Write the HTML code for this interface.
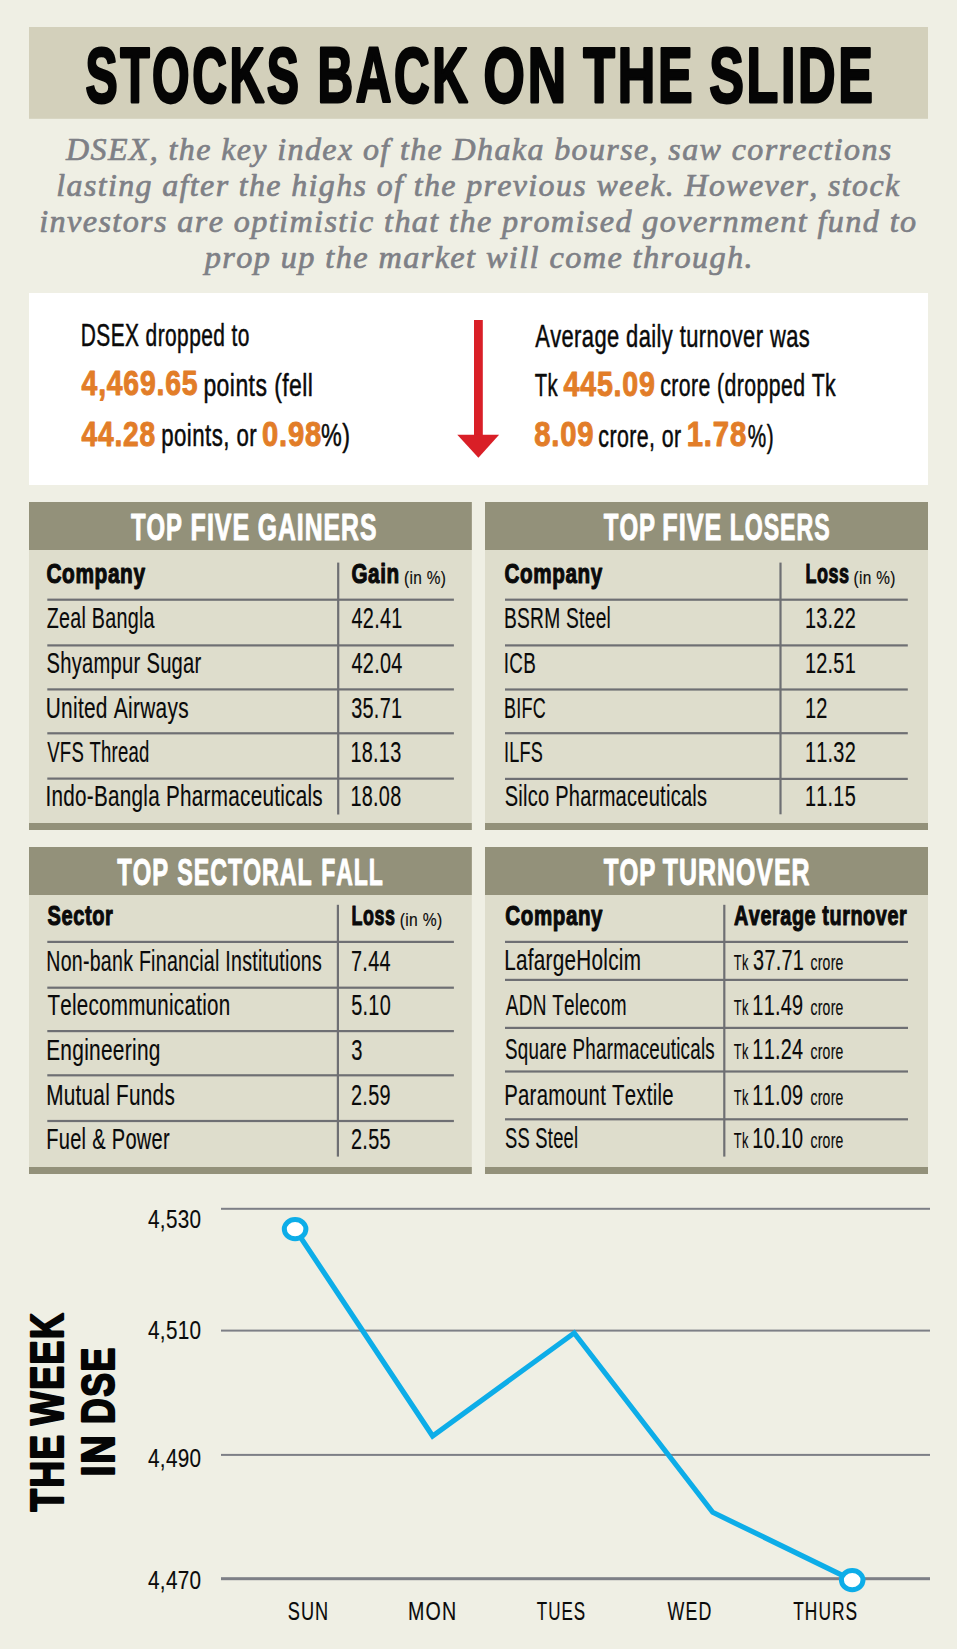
<!DOCTYPE html>
<html><head><meta charset="utf-8"><title>Stocks back on the slide</title>
<style>
html,body{margin:0;padding:0;background:#EFEFE4;}
body{width:957px;height:1649px;overflow:hidden;}
svg{display:block;}
text{font-kerning:none;white-space:pre;}
.r{font-family:"Liberation Sans",sans-serif;font-weight:400;}
.b{font-family:"Liberation Sans",sans-serif;font-weight:700;}
.i{font-family:"Liberation Serif",serif;font-weight:400;font-style:italic;}
.bi{font-family:"Liberation Serif",serif;font-weight:700;font-style:italic;}
</style></head>
<body>
<svg width="957" height="1649" viewBox="0 0 957 1649">
<rect x="0" y="0" width="957" height="1649" fill="#EFEFE4"/>
<rect x="29" y="27" width="899" height="91.8" fill="#D3D0BB"/>
<text class="b" transform="translate(85.49,102.30) scale(0.6251,1)" font-size="77.18" letter-spacing="4.00" stroke="#050505" stroke-width="2.80" stroke-linejoin="round" fill="#050505">STOCKS</text>
<text class="b" transform="translate(317.59,102.30) scale(0.6400,1)" font-size="77.18" letter-spacing="4.00" stroke="#050505" stroke-width="2.80" stroke-linejoin="round" fill="#050505">BACK</text>
<text class="b" transform="translate(483.58,102.30) scale(0.6882,1)" font-size="77.18" letter-spacing="4.00" stroke="#050505" stroke-width="2.80" stroke-linejoin="round" fill="#050505">ON</text>
<text class="b" transform="translate(583.36,102.30) scale(0.6721,1)" font-size="77.18" letter-spacing="4.00" stroke="#050505" stroke-width="2.80" stroke-linejoin="round" fill="#050505">THE</text>
<text class="b" transform="translate(709.25,102.30) scale(0.6731,1)" font-size="77.18" letter-spacing="4.00" stroke="#050505" stroke-width="2.80" stroke-linejoin="round" fill="#050505">SLIDE</text>
<text class="i" transform="translate(66.00,159.65) scale(0.9846,1)" font-size="32.52" letter-spacing="1.40" stroke="#7E8086" stroke-width="0.70" stroke-linejoin="round" fill="#7E8086">DSEX, the key index of the Dhaka bourse, saw corrections</text>
<text class="i" transform="translate(56.34,195.65) scale(0.9822,1)" font-size="32.52" letter-spacing="1.40" stroke="#7E8086" stroke-width="0.70" stroke-linejoin="round" fill="#7E8086">lasting after the highs of the previous week. However, stock</text>
<text class="i" transform="translate(39.25,232.45) scale(0.9900,1)" font-size="32.52" letter-spacing="1.40" stroke="#7E8086" stroke-width="0.70" stroke-linejoin="round" fill="#7E8086">investors are optimistic that the promised government fund to</text>
<text class="i" transform="translate(204.74,268.15) scale(0.9934,1)" font-size="32.52" letter-spacing="1.40" stroke="#7E8086" stroke-width="0.70" stroke-linejoin="round" fill="#7E8086">prop up the market will come through.</text>
<rect x="29" y="293" width="899" height="192" fill="#FFFFFF"/>
<text class="r" transform="translate(80.75,345.55) scale(0.6738,1)" font-size="31.10" letter-spacing="0.60" stroke="#0A0A0A" stroke-width="0.50" stroke-linejoin="round" fill="#0A0A0A">DSEX dropped to</text>
<text class="b" transform="translate(81.57,395.10) scale(0.7992,1)" font-size="35.47" letter-spacing="1.00" stroke="#E27D28" stroke-width="1.00" stroke-linejoin="round" fill="#E27D28">4,469.65</text>
<text class="r" transform="translate(203.40,395.55) scale(0.7391,1)" font-size="31.10" letter-spacing="0.60" stroke="#0A0A0A" stroke-width="0.50" stroke-linejoin="round" fill="#0A0A0A">points (fell</text>
<text class="b" transform="translate(81.57,445.50) scale(0.7935,1)" font-size="35.47" letter-spacing="1.00" stroke="#E27D28" stroke-width="1.00" stroke-linejoin="round" fill="#E27D28">44.28</text>
<text class="r" transform="translate(161.24,445.75) scale(0.7158,1)" font-size="31.10" letter-spacing="0.60" stroke="#0A0A0A" stroke-width="0.50" stroke-linejoin="round" fill="#0A0A0A">points, or</text>
<text class="b" transform="translate(261.96,445.50) scale(0.8223,1)" font-size="35.47" letter-spacing="1.00" stroke="#E27D28" stroke-width="1.00" stroke-linejoin="round" fill="#E27D28">0.98</text>
<text class="r" transform="translate(321.05,445.75) scale(0.7512,1)" font-size="31.10" letter-spacing="0.60" stroke="#0A0A0A" stroke-width="0.50" stroke-linejoin="round" fill="#0A0A0A">%)</text>
<text class="r" transform="translate(535.13,346.55) scale(0.7043,1)" font-size="31.10" letter-spacing="0.60" stroke="#0A0A0A" stroke-width="0.50" stroke-linejoin="round" fill="#0A0A0A">Average daily turnover was</text>
<text class="r" transform="translate(534.71,396.05) scale(0.6514,1)" font-size="31.10" letter-spacing="0.60" stroke="#0A0A0A" stroke-width="0.50" stroke-linejoin="round" fill="#0A0A0A">Tk</text>
<text class="b" transform="translate(563.47,395.80) scale(0.8062,1)" font-size="35.47" letter-spacing="1.00" stroke="#E27D28" stroke-width="1.00" stroke-linejoin="round" fill="#E27D28">445.09</text>
<text class="r" transform="translate(660.27,396.05) scale(0.6835,1)" font-size="31.10" letter-spacing="0.60" stroke="#0A0A0A" stroke-width="0.50" stroke-linejoin="round" fill="#0A0A0A">crore (dropped Tk</text>
<text class="b" transform="translate(534.18,446.30) scale(0.8246,1)" font-size="35.47" letter-spacing="1.00" stroke="#E27D28" stroke-width="1.00" stroke-linejoin="round" fill="#E27D28">8.09</text>
<text class="r" transform="translate(598.36,446.55) scale(0.6867,1)" font-size="31.10" letter-spacing="0.60" stroke="#0A0A0A" stroke-width="0.50" stroke-linejoin="round" fill="#0A0A0A">crore, or</text>
<text class="b" transform="translate(686.77,446.30) scale(0.8250,1)" font-size="35.47" letter-spacing="1.00" stroke="#E27D28" stroke-width="1.00" stroke-linejoin="round" fill="#E27D28">1.78</text>
<text class="r" transform="translate(747.83,446.55) scale(0.6680,1)" font-size="31.10" letter-spacing="0.60" stroke="#0A0A0A" stroke-width="0.50" stroke-linejoin="round" fill="#0A0A0A">%)</text>
<rect x="474" y="320" width="8.8" height="116" fill="#D91F27"/>
<polygon points="457.3,434.8 499.1,434.8 478.4,457.7" fill="#D91F27"/>
<rect x="29" y="502" width="442.8" height="328" fill="#DEDDCC"/>
<rect x="29" y="502" width="442.8" height="48" fill="#93917A"/>
<rect x="485" y="502" width="443" height="328" fill="#DEDDCC"/>
<rect x="485" y="502" width="443" height="48" fill="#93917A"/>
<rect x="29" y="823" width="442.8" height="7" fill="#93917A"/>
<rect x="485" y="823" width="443" height="7" fill="#93917A"/>
<rect x="29" y="847" width="442.8" height="327" fill="#DEDDCC"/>
<rect x="29" y="847" width="442.8" height="48" fill="#93917A"/>
<rect x="485" y="847" width="443" height="327" fill="#DEDDCC"/>
<rect x="485" y="847" width="443" height="48" fill="#93917A"/>
<rect x="29" y="1167" width="442.8" height="7" fill="#93917A"/>
<rect x="485" y="1167" width="443" height="7" fill="#93917A"/>
<text class="b" transform="translate(130.95,540.30) scale(0.6374,1)" font-size="37.50" letter-spacing="1.50" stroke="#FFFFFF" stroke-width="1.00" stroke-linejoin="round" fill="#FFFFFF">TOP</text>
<text class="b" transform="translate(190.56,540.30) scale(0.6692,1)" font-size="37.50" letter-spacing="1.50" stroke="#FFFFFF" stroke-width="1.00" stroke-linejoin="round" fill="#FFFFFF">FIVE</text>
<text class="b" transform="translate(257.71,540.30) scale(0.6607,1)" font-size="37.50" letter-spacing="1.50" stroke="#FFFFFF" stroke-width="1.00" stroke-linejoin="round" fill="#FFFFFF">GAINERS</text>
<text class="b" transform="translate(603.85,540.30) scale(0.6399,1)" font-size="37.50" letter-spacing="1.50" stroke="#FFFFFF" stroke-width="1.00" stroke-linejoin="round" fill="#FFFFFF">TOP</text>
<text class="b" transform="translate(662.35,540.30) scale(0.6727,1)" font-size="37.50" letter-spacing="1.50" stroke="#FFFFFF" stroke-width="1.00" stroke-linejoin="round" fill="#FFFFFF">FIVE</text>
<text class="b" transform="translate(729.76,540.30) scale(0.6174,1)" font-size="37.50" letter-spacing="1.50" stroke="#FFFFFF" stroke-width="1.00" stroke-linejoin="round" fill="#FFFFFF">LOSERS</text>
<text class="b" transform="translate(117.35,885.30) scale(0.6361,1)" font-size="37.50" letter-spacing="1.50" stroke="#FFFFFF" stroke-width="1.00" stroke-linejoin="round" fill="#FFFFFF">TOP</text>
<text class="b" transform="translate(177.24,885.30) scale(0.6208,1)" font-size="37.50" letter-spacing="1.50" stroke="#FFFFFF" stroke-width="1.00" stroke-linejoin="round" fill="#FFFFFF">SECTORAL</text>
<text class="b" transform="translate(321.17,885.30) scale(0.6145,1)" font-size="37.50" letter-spacing="1.50" stroke="#FFFFFF" stroke-width="1.00" stroke-linejoin="round" fill="#FFFFFF">FALL</text>
<text class="b" transform="translate(603.85,885.30) scale(0.6450,1)" font-size="37.50" letter-spacing="1.50" stroke="#FFFFFF" stroke-width="1.00" stroke-linejoin="round" fill="#FFFFFF">TOP</text>
<text class="b" transform="translate(662.75,885.30) scale(0.6646,1)" font-size="37.50" letter-spacing="1.50" stroke="#FFFFFF" stroke-width="1.00" stroke-linejoin="round" fill="#FFFFFF">TURNOVER</text>
<rect x="47.3" y="598.60" width="406.60" height="2.2" fill="#6E6F73"/>
<rect x="47.3" y="644.30" width="406.60" height="2.2" fill="#6E6F73"/>
<rect x="47.3" y="688.30" width="406.60" height="2.2" fill="#6E6F73"/>
<rect x="47.3" y="732.20" width="406.60" height="2.2" fill="#6E6F73"/>
<rect x="47.3" y="777.50" width="406.60" height="2.2" fill="#6E6F73"/>
<rect x="337.10" y="562.6" width="2.2" height="251.90" fill="#6E6F73"/>
<text class="b" transform="translate(46.46,583.05) scale(0.7468,1)" font-size="27.91" letter-spacing="0.80" stroke="#0A0A0A" stroke-width="1.10" stroke-linejoin="round" fill="#0A0A0A">Company</text>
<text class="b" transform="translate(351.46,583.05) scale(0.7406,1)" font-size="27.91" letter-spacing="0.80" stroke="#0A0A0A" stroke-width="1.10" stroke-linejoin="round" fill="#0A0A0A">Gain</text>
<text class="r" transform="translate(404.11,583.52) scale(0.8503,1)" font-size="18.10" letter-spacing="0.40" stroke="#0A0A0A" stroke-width="0.15" stroke-linejoin="round" fill="#0A0A0A">(in %)</text>
<text class="r" transform="translate(46.72,627.62) scale(0.6700,1)" font-size="29.43" letter-spacing="0.40" stroke="#0A0A0A" stroke-width="0.15" stroke-linejoin="round" fill="#0A0A0A">Zeal Bangla</text>
<text class="r" transform="translate(46.44,672.72) scale(0.6854,1)" font-size="29.43" letter-spacing="0.40" stroke="#0A0A0A" stroke-width="0.15" stroke-linejoin="round" fill="#0A0A0A">Shyampur Sugar</text>
<text class="r" transform="translate(45.74,717.52) scale(0.7095,1)" font-size="29.43" letter-spacing="0.40" stroke="#0A0A0A" stroke-width="0.15" stroke-linejoin="round" fill="#0A0A0A">United Airways</text>
<text class="r" transform="translate(47.27,761.52) scale(0.6290,1)" font-size="29.43" letter-spacing="0.40" stroke="#0A0A0A" stroke-width="0.15" stroke-linejoin="round" fill="#0A0A0A">VFS Thread</text>
<text class="r" transform="translate(45.44,806.32) scale(0.7024,1)" font-size="29.43" letter-spacing="0.40" stroke="#0A0A0A" stroke-width="0.15" stroke-linejoin="round" fill="#0A0A0A">Indo-Bangla Pharmaceuticals</text>
<text class="r" transform="translate(351.50,627.62) scale(0.6921,1)" font-size="28.71" letter-spacing="0.40" stroke="#0A0A0A" stroke-width="0.15" stroke-linejoin="round" fill="#0A0A0A">42.41</text>
<text class="r" transform="translate(351.50,672.72) scale(0.6922,1)" font-size="28.71" letter-spacing="0.40" stroke="#0A0A0A" stroke-width="0.15" stroke-linejoin="round" fill="#0A0A0A">42.04</text>
<text class="r" transform="translate(351.20,717.52) scale(0.6920,1)" font-size="28.71" letter-spacing="0.40" stroke="#0A0A0A" stroke-width="0.15" stroke-linejoin="round" fill="#0A0A0A">35.71</text>
<text class="r" transform="translate(350.44,761.52) scale(0.6917,1)" font-size="28.71" letter-spacing="0.40" stroke="#0A0A0A" stroke-width="0.15" stroke-linejoin="round" fill="#0A0A0A">18.13</text>
<text class="r" transform="translate(350.44,806.32) scale(0.6917,1)" font-size="28.71" letter-spacing="0.40" stroke="#0A0A0A" stroke-width="0.15" stroke-linejoin="round" fill="#0A0A0A">18.08</text>
<rect x="505" y="598.60" width="402.80" height="2.2" fill="#6E6F73"/>
<rect x="505" y="644.30" width="402.80" height="2.2" fill="#6E6F73"/>
<rect x="505" y="688.40" width="402.80" height="2.2" fill="#6E6F73"/>
<rect x="505" y="732.10" width="402.80" height="2.2" fill="#6E6F73"/>
<rect x="505" y="777.80" width="402.80" height="2.2" fill="#6E6F73"/>
<rect x="779.40" y="562.6" width="2.2" height="251.70" fill="#6E6F73"/>
<text class="b" transform="translate(504.56,583.25) scale(0.7400,1)" font-size="27.91" letter-spacing="0.80" stroke="#0A0A0A" stroke-width="1.10" stroke-linejoin="round" fill="#0A0A0A">Company</text>
<text class="b" transform="translate(805.45,583.25) scale(0.6446,1)" font-size="27.91" letter-spacing="0.80" stroke="#0A0A0A" stroke-width="1.10" stroke-linejoin="round" fill="#0A0A0A">Loss</text>
<text class="r" transform="translate(853.61,583.72) scale(0.8503,1)" font-size="18.10" letter-spacing="0.40" stroke="#0A0A0A" stroke-width="0.15" stroke-linejoin="round" fill="#0A0A0A">(in %)</text>
<text class="r" transform="translate(503.97,627.62) scale(0.6526,1)" font-size="29.43" letter-spacing="0.40" stroke="#0A0A0A" stroke-width="0.15" stroke-linejoin="round" fill="#0A0A0A">BSRM Steel</text>
<text class="r" transform="translate(503.81,672.72) scale(0.6405,1)" font-size="29.43" letter-spacing="0.40" stroke="#0A0A0A" stroke-width="0.15" stroke-linejoin="round" fill="#0A0A0A">ICB</text>
<text class="r" transform="translate(504.07,717.52) scale(0.6121,1)" font-size="29.43" letter-spacing="0.40" stroke="#0A0A0A" stroke-width="0.15" stroke-linejoin="round" fill="#0A0A0A">BIFC</text>
<text class="r" transform="translate(503.88,761.52) scale(0.6141,1)" font-size="29.43" letter-spacing="0.40" stroke="#0A0A0A" stroke-width="0.15" stroke-linejoin="round" fill="#0A0A0A">ILFS</text>
<text class="r" transform="translate(504.64,806.32) scale(0.6810,1)" font-size="29.43" letter-spacing="0.40" stroke="#0A0A0A" stroke-width="0.15" stroke-linejoin="round" fill="#0A0A0A">Silco Pharmaceuticals</text>
<text class="r" transform="translate(804.94,627.62) scale(0.6917,1)" font-size="28.71" letter-spacing="0.40" stroke="#0A0A0A" stroke-width="0.15" stroke-linejoin="round" fill="#0A0A0A">13.22</text>
<text class="r" transform="translate(804.94,672.72) scale(0.6917,1)" font-size="28.71" letter-spacing="0.40" stroke="#0A0A0A" stroke-width="0.15" stroke-linejoin="round" fill="#0A0A0A">12.51</text>
<text class="r" transform="translate(804.93,717.52) scale(0.6959,1)" font-size="28.71" letter-spacing="0.40" stroke="#0A0A0A" stroke-width="0.15" stroke-linejoin="round" fill="#0A0A0A">12</text>
<text class="r" transform="translate(804.94,761.52) scale(0.6917,1)" font-size="28.71" letter-spacing="0.40" stroke="#0A0A0A" stroke-width="0.15" stroke-linejoin="round" fill="#0A0A0A">11.32</text>
<text class="r" transform="translate(804.94,806.32) scale(0.6917,1)" font-size="28.71" letter-spacing="0.40" stroke="#0A0A0A" stroke-width="0.15" stroke-linejoin="round" fill="#0A0A0A">11.15</text>
<rect x="47.3" y="940.80" width="406.60" height="2.2" fill="#6E6F73"/>
<rect x="47.3" y="986.60" width="406.60" height="2.2" fill="#6E6F73"/>
<rect x="47.3" y="1030.00" width="406.60" height="2.2" fill="#6E6F73"/>
<rect x="47.3" y="1074.20" width="406.60" height="2.2" fill="#6E6F73"/>
<rect x="47.3" y="1119.90" width="406.60" height="2.2" fill="#6E6F73"/>
<rect x="336.80" y="904.8" width="2.2" height="251.80" fill="#6E6F73"/>
<text class="b" transform="translate(47.62,925.35) scale(0.7186,1)" font-size="27.91" letter-spacing="0.80" stroke="#0A0A0A" stroke-width="1.10" stroke-linejoin="round" fill="#0A0A0A">Sector</text>
<text class="b" transform="translate(351.56,925.35) scale(0.6415,1)" font-size="27.91" letter-spacing="0.80" stroke="#0A0A0A" stroke-width="1.10" stroke-linejoin="round" fill="#0A0A0A">Loss</text>
<text class="r" transform="translate(399.69,925.82) scale(0.8651,1)" font-size="18.10" letter-spacing="0.40" stroke="#0A0A0A" stroke-width="0.15" stroke-linejoin="round" fill="#0A0A0A">(in %)</text>
<text class="r" transform="translate(46.24,970.72) scale(0.6650,1)" font-size="29.43" letter-spacing="0.40" stroke="#0A0A0A" stroke-width="0.15" stroke-linejoin="round" fill="#0A0A0A">Non-bank Financial Institutions</text>
<text class="r" transform="translate(47.39,1014.72) scale(0.6991,1)" font-size="29.43" letter-spacing="0.40" stroke="#0A0A0A" stroke-width="0.15" stroke-linejoin="round" fill="#0A0A0A">Telecommunication</text>
<text class="r" transform="translate(46.14,1060.12) scale(0.7098,1)" font-size="29.43" letter-spacing="0.40" stroke="#0A0A0A" stroke-width="0.15" stroke-linejoin="round" fill="#0A0A0A">Engineering</text>
<text class="r" transform="translate(46.15,1104.52) scale(0.7046,1)" font-size="29.43" letter-spacing="0.40" stroke="#0A0A0A" stroke-width="0.15" stroke-linejoin="round" fill="#0A0A0A">Mutual Funds</text>
<text class="r" transform="translate(46.20,1148.52) scale(0.6825,1)" font-size="29.43" letter-spacing="0.40" stroke="#0A0A0A" stroke-width="0.15" stroke-linejoin="round" fill="#0A0A0A">Fuel &amp; Power</text>
<text class="r" transform="translate(351.03,970.72) scale(0.6920,1)" font-size="28.71" letter-spacing="0.40" stroke="#0A0A0A" stroke-width="0.15" stroke-linejoin="round" fill="#0A0A0A">7.44</text>
<text class="r" transform="translate(351.26,1014.72) scale(0.6920,1)" font-size="28.71" letter-spacing="0.40" stroke="#0A0A0A" stroke-width="0.15" stroke-linejoin="round" fill="#0A0A0A">5.10</text>
<text class="r" transform="translate(351.29,1060.12) scale(0.7017,1)" font-size="28.71" letter-spacing="0.40" stroke="#0A0A0A" stroke-width="0.15" stroke-linejoin="round" fill="#0A0A0A">3</text>
<text class="r" transform="translate(351.05,1104.52) scale(0.6918,1)" font-size="28.71" letter-spacing="0.40" stroke="#0A0A0A" stroke-width="0.15" stroke-linejoin="round" fill="#0A0A0A">2.59</text>
<text class="r" transform="translate(351.05,1148.52) scale(0.6919,1)" font-size="28.71" letter-spacing="0.40" stroke="#0A0A0A" stroke-width="0.15" stroke-linejoin="round" fill="#0A0A0A">2.55</text>
<rect x="505" y="940.80" width="403.00" height="2.2" fill="#6E6F73"/>
<rect x="505" y="978.80" width="403.00" height="2.2" fill="#6E6F73"/>
<rect x="505" y="1026.80" width="403.00" height="2.2" fill="#6E6F73"/>
<rect x="505" y="1070.40" width="403.00" height="2.2" fill="#6E6F73"/>
<rect x="505" y="1118.20" width="403.00" height="2.2" fill="#6E6F73"/>
<rect x="723.20" y="904.8" width="2.2" height="251.80" fill="#6E6F73"/>
<text class="b" transform="translate(505.36,925.05) scale(0.7362,1)" font-size="27.91" letter-spacing="0.80" stroke="#0A0A0A" stroke-width="1.10" stroke-linejoin="round" fill="#0A0A0A">Company</text>
<text class="b" transform="translate(733.90,925.05) scale(0.7113,1)" font-size="27.91" letter-spacing="0.80" stroke="#0A0A0A" stroke-width="1.10" stroke-linejoin="round" fill="#0A0A0A">Average turnover</text>
<text class="r" transform="translate(504.15,970.42) scale(0.7034,1)" font-size="29.43" letter-spacing="0.40" stroke="#0A0A0A" stroke-width="0.15" stroke-linejoin="round" fill="#0A0A0A">LafargeHolcim</text>
<text class="r" transform="translate(505.81,1014.52) scale(0.6448,1)" font-size="29.43" letter-spacing="0.40" stroke="#0A0A0A" stroke-width="0.15" stroke-linejoin="round" fill="#0A0A0A">ADN Telecom</text>
<text class="r" transform="translate(505.00,1059.33) scale(0.6377,1)" font-size="29.43" letter-spacing="0.40" stroke="#0A0A0A" stroke-width="0.15" stroke-linejoin="round" fill="#0A0A0A">Square Pharmaceuticals</text>
<text class="r" transform="translate(504.18,1104.92) scale(0.6914,1)" font-size="29.43" letter-spacing="0.40" stroke="#0A0A0A" stroke-width="0.15" stroke-linejoin="round" fill="#0A0A0A">Paramount Textile</text>
<text class="r" transform="translate(505.01,1148.42) scale(0.6236,1)" font-size="29.43" letter-spacing="0.40" stroke="#0A0A0A" stroke-width="0.15" stroke-linejoin="round" fill="#0A0A0A">SS Steel</text>
<text class="r" transform="translate(733.86,970.42) scale(0.5979,1)" font-size="21.44" letter-spacing="0.40" stroke="#0A0A0A" stroke-width="0.15" stroke-linejoin="round" fill="#0A0A0A">Tk</text>
<text class="r" transform="translate(753.10,970.42) scale(0.6920,1)" font-size="28.71" letter-spacing="0.40" stroke="#0A0A0A" stroke-width="0.15" stroke-linejoin="round" fill="#0A0A0A">37.71</text>
<text class="r" transform="translate(810.45,970.42) scale(0.6526,1)" font-size="21.44" letter-spacing="0.40" stroke="#0A0A0A" stroke-width="0.15" stroke-linejoin="round" fill="#0A0A0A">crore</text>
<text class="r" transform="translate(733.86,1014.52) scale(0.5979,1)" font-size="21.44" letter-spacing="0.40" stroke="#0A0A0A" stroke-width="0.15" stroke-linejoin="round" fill="#0A0A0A">Tk</text>
<text class="r" transform="translate(752.34,1014.52) scale(0.6917,1)" font-size="28.71" letter-spacing="0.40" stroke="#0A0A0A" stroke-width="0.15" stroke-linejoin="round" fill="#0A0A0A">11.49</text>
<text class="r" transform="translate(810.45,1014.52) scale(0.6526,1)" font-size="21.44" letter-spacing="0.40" stroke="#0A0A0A" stroke-width="0.15" stroke-linejoin="round" fill="#0A0A0A">crore</text>
<text class="r" transform="translate(733.86,1059.33) scale(0.5979,1)" font-size="21.44" letter-spacing="0.40" stroke="#0A0A0A" stroke-width="0.15" stroke-linejoin="round" fill="#0A0A0A">Tk</text>
<text class="r" transform="translate(752.34,1059.33) scale(0.6918,1)" font-size="28.71" letter-spacing="0.40" stroke="#0A0A0A" stroke-width="0.15" stroke-linejoin="round" fill="#0A0A0A">11.24</text>
<text class="r" transform="translate(810.45,1059.33) scale(0.6526,1)" font-size="21.44" letter-spacing="0.40" stroke="#0A0A0A" stroke-width="0.15" stroke-linejoin="round" fill="#0A0A0A">crore</text>
<text class="r" transform="translate(733.86,1104.92) scale(0.5979,1)" font-size="21.44" letter-spacing="0.40" stroke="#0A0A0A" stroke-width="0.15" stroke-linejoin="round" fill="#0A0A0A">Tk</text>
<text class="r" transform="translate(752.34,1104.92) scale(0.6917,1)" font-size="28.71" letter-spacing="0.40" stroke="#0A0A0A" stroke-width="0.15" stroke-linejoin="round" fill="#0A0A0A">11.09</text>
<text class="r" transform="translate(810.45,1104.92) scale(0.6526,1)" font-size="21.44" letter-spacing="0.40" stroke="#0A0A0A" stroke-width="0.15" stroke-linejoin="round" fill="#0A0A0A">crore</text>
<text class="r" transform="translate(733.86,1148.42) scale(0.5979,1)" font-size="21.44" letter-spacing="0.40" stroke="#0A0A0A" stroke-width="0.15" stroke-linejoin="round" fill="#0A0A0A">Tk</text>
<text class="r" transform="translate(752.34,1148.42) scale(0.6918,1)" font-size="28.71" letter-spacing="0.40" stroke="#0A0A0A" stroke-width="0.15" stroke-linejoin="round" fill="#0A0A0A">10.10</text>
<text class="r" transform="translate(810.45,1148.42) scale(0.6526,1)" font-size="21.44" letter-spacing="0.40" stroke="#0A0A0A" stroke-width="0.15" stroke-linejoin="round" fill="#0A0A0A">crore</text>
<rect x="221" y="1207.80" width="709" height="2.0" fill="#7D7F86"/>
<rect x="221" y="1329.60" width="709" height="2.0" fill="#7D7F86"/>
<rect x="221" y="1453.90" width="709" height="2.0" fill="#7D7F86"/>
<rect x="221" y="1577.20" width="709" height="3.0" fill="#7D7F86"/>
<text class="r" transform="translate(147.99,1227.92) scale(0.8262,1)" font-size="25.07" letter-spacing="0.40" stroke="#0A0A0A" stroke-width="0.15" stroke-linejoin="round" fill="#0A0A0A">4,530</text>
<text class="r" transform="translate(147.99,1339.33) scale(0.8262,1)" font-size="25.07" letter-spacing="0.40" stroke="#0A0A0A" stroke-width="0.15" stroke-linejoin="round" fill="#0A0A0A">4,510</text>
<text class="r" transform="translate(147.99,1466.72) scale(0.8262,1)" font-size="25.07" letter-spacing="0.40" stroke="#0A0A0A" stroke-width="0.15" stroke-linejoin="round" fill="#0A0A0A">4,490</text>
<text class="r" transform="translate(147.99,1588.72) scale(0.8262,1)" font-size="25.07" letter-spacing="0.40" stroke="#0A0A0A" stroke-width="0.15" stroke-linejoin="round" fill="#0A0A0A">4,470</text>
<text class="r" transform="translate(287.73,1619.62) scale(0.7085,1)" font-size="25.65" letter-spacing="1.50" stroke="#0A0A0A" stroke-width="0.15" stroke-linejoin="round" fill="#0A0A0A">SUN</text>
<text class="r" transform="translate(408.04,1619.62) scale(0.7669,1)" font-size="25.65" letter-spacing="1.50" stroke="#0A0A0A" stroke-width="0.15" stroke-linejoin="round" fill="#0A0A0A">MON</text>
<text class="r" transform="translate(536.77,1619.62) scale(0.6632,1)" font-size="25.65" letter-spacing="1.50" stroke="#0A0A0A" stroke-width="0.15" stroke-linejoin="round" fill="#0A0A0A">TUES</text>
<text class="r" transform="translate(667.57,1619.62) scale(0.6957,1)" font-size="25.65" letter-spacing="1.50" stroke="#0A0A0A" stroke-width="0.15" stroke-linejoin="round" fill="#0A0A0A">WED</text>
<text class="r" transform="translate(793.26,1619.62) scale(0.6760,1)" font-size="25.65" letter-spacing="1.50" stroke="#0A0A0A" stroke-width="0.15" stroke-linejoin="round" fill="#0A0A0A">THURS</text>
<polyline points="295.1,1229.1 432.6,1436 574.2,1333 712.7,1512.3 852.2,1580.1" fill="none" stroke="#0DADE8" stroke-width="5.2" stroke-linejoin="miter"/>
<ellipse cx="295.1" cy="1229.1" rx="10.8" ry="9.6" fill="#FFFFFF" stroke="#0DADE8" stroke-width="5"/>
<ellipse cx="852.2" cy="1580.1" rx="10.8" ry="9.6" fill="#FFFFFF" stroke="#0DADE8" stroke-width="5"/>
<text class="b" transform="translate(64.40,1511.90) rotate(-90) translate(0.45,-1.10) scale(0.7817,1)" font-size="46.95" letter-spacing="2.00" stroke="#050505" stroke-width="2.20" stroke-linejoin="round" fill="#050505">THE</text>
<text class="b" transform="translate(64.40,1426.00) rotate(-90) translate(0.80,-1.10) scale(0.7633,1)" font-size="46.95" letter-spacing="2.00" stroke="#050505" stroke-width="2.20" stroke-linejoin="round" fill="#050505">WEEK</text>
<text class="b" transform="translate(115.30,1474.80) rotate(-90) translate(-1.71,-1.10) scale(0.8501,1)" font-size="46.51" letter-spacing="2.00" stroke="#050505" stroke-width="2.20" stroke-linejoin="round" fill="#050505">IN</text>
<text class="b" transform="translate(115.30,1422.40) rotate(-90) translate(-1.54,-1.10) scale(0.7657,1)" font-size="46.51" letter-spacing="2.00" stroke="#050505" stroke-width="2.20" stroke-linejoin="round" fill="#050505">DSE</text>
</svg>
</body></html>
